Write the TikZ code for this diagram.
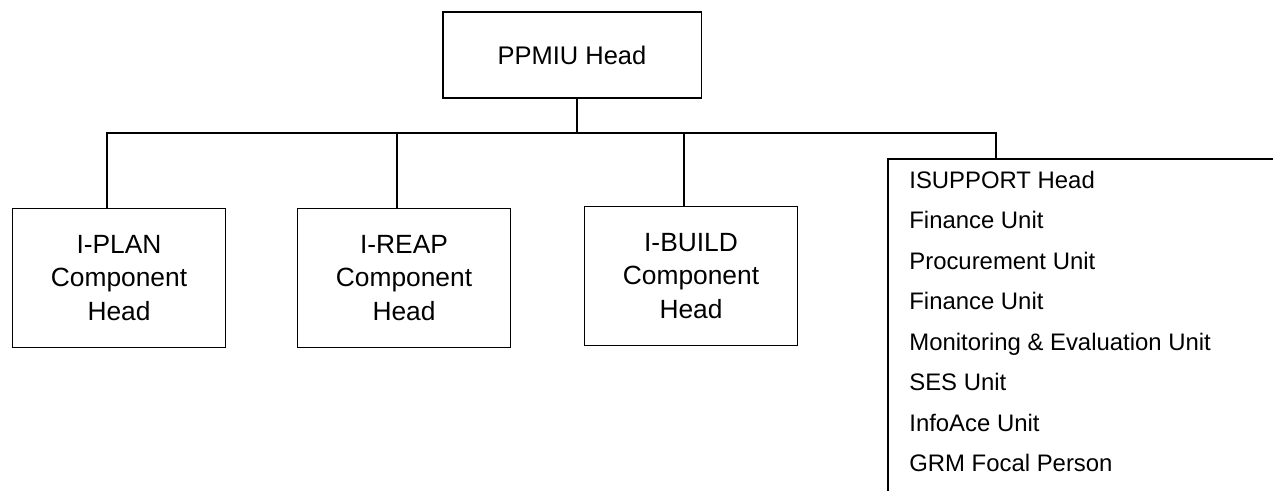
\documentclass[tikz,border=0pt]{standalone}
\usepackage{fontspec}
\setmainfont{Liberation Sans}
\tikzstyle{headbox}=[draw, line width=1.1pt, minimum width=5.18cm, minimum height=1.72cm, font=\fontsize{14.5}{17}\selectfont]
\tikzstyle{component}=[draw, line width=1.1pt, minimum width=4.26cm, minimum height=2.78cm, align=center, font=\fontsize{15}{19}\selectfont]
\tikzstyle{listbox}=[draw, line width=1.1pt, minimum width=8.4cm, minimum height=7.2cm, anchor=north west]
\tikzstyle{unit}=[inner sep=0pt, anchor=base west, font=\fontsize{13.6}{16}\selectfont]
\tikzstyle{link}=[line width=1.1pt]

\begin{document}
\begin{tikzpicture}[x=0.02cm, y=-0.02cm]
      \useasboundingbox (0,0) rectangle (1273,490);
      \clip (0,0) rectangle (1273,490);
      \node[headbox] (ppmiu) at (572,55) {PPMIU Head};
      \node[component] (plan) at (119,278) {I-PLAN\\Component\\Head};
      \node[component] (reap) at (404,278) {I-REAP\\Component\\Head};
      \node[component] (build) at (691,276) {I-BUILD\\Component\\Head};
      \node[listbox] (isupport) at (887,158) {};
      \foreach \t [count=\i] in {ISUPPORT Head, Finance Unit, Procurement Unit,
          Finance Unit, Monitoring \& Evaluation Unit, SES Unit, InfoAce Unit,
          GRM Focal Person}
        \node[unit] (u\i) at (909, 188+40.5*\i-40.5) {\t};
      \coordinate (bus) at (577,133);
      \coordinate (tap) at (996,158);
      \draw[link] (ppmiu.south -| bus) -- (bus);
      \draw[link] ([xshift=-0.24cm]plan.north) |- (bus);
      \draw[link] ([xshift=-0.14cm]reap.north) |- (bus);
      \draw[link] ([xshift=-0.14cm]build.north) |- (bus);
      \draw[link] (bus) -| (tap);
    \end{tikzpicture}
\end{document}
